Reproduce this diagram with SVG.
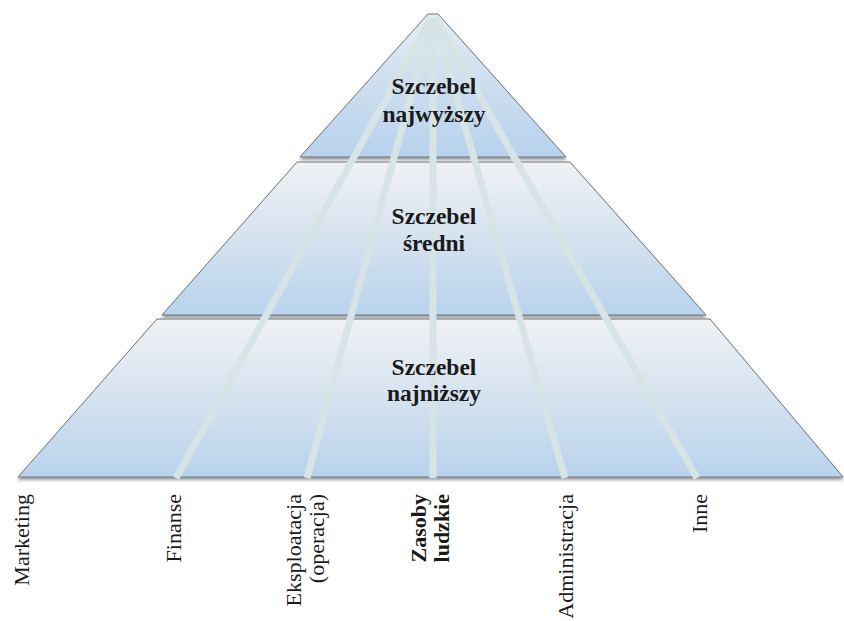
<svg xmlns="http://www.w3.org/2000/svg" width="844" height="621" viewBox="0 0 844 621">
  <style>
    .tier { stroke: #70757c; stroke-width: 1; filter: url(#shadow); }
    .level { font-family: "Liberation Serif", "Times New Roman", serif; font-size: 23.5px; font-weight: bold; fill: #1a1a1a; text-anchor: middle; }
    .func { font-family: "Liberation Serif", "Times New Roman", serif; font-size: 22px; fill: #1a1a1a; text-anchor: end; }
    .func.strong { font-weight: bold; }
    .ray { stroke: #d6e4e6; stroke-width: 7; stroke-linecap: butt; fill: none; }
  </style>
  <defs>
    <linearGradient id="tierFill" x1="0" y1="0" x2="0" y2="1">
      <stop offset="0" stop-color="#eff2f4"/>
      <stop offset="0.5" stop-color="#d5e2ef"/>
      <stop offset="1" stop-color="#b8d3ed"/>
    </linearGradient>
    <linearGradient id="apexFill" x1="0" y1="0" x2="0" y2="1">
      <stop offset="0" stop-color="#e6edf3"/>
      <stop offset="0.45" stop-color="#cfdff0"/>
      <stop offset="1" stop-color="#b7d2ec"/>
    </linearGradient>
    <filter id="shadow" x="-5%" y="-5%" width="110%" height="115%">
      <feDropShadow dx="0" dy="2.5" stdDeviation="1.6" flood-color="#4a4a4a" flood-opacity="0.55"/>
    </filter>
  </defs>

  <!-- pyramid levels -->
  <g id="tier-top">
    <polygon class="tier" fill="url(#apexFill)" points="428,14 438,14 566,157 300,157"/>
  </g>
  <g id="tier-middle">
    <polygon class="tier" fill="url(#tierFill)" points="297,162 570,162 706,315 162,315"/>
  </g>
  <g id="tier-bottom">
    <polygon class="tier" fill="url(#tierFill)" points="157,319 710,319 843,477 18,477"/>
  </g>

  <!-- functional rays from the apex down to each department -->
  <g id="connectors">
    <line class="ray" x1="431" y1="18" x2="176" y2="478"/>
    <line class="ray" x1="432" y1="18" x2="307" y2="478"/>
    <line class="ray" x1="433" y1="18" x2="433" y2="478"/>
    <line class="ray" x1="434" y1="18" x2="565" y2="478"/>
    <line class="ray" x1="435" y1="18" x2="697" y2="478"/>
  </g>

  <!-- level labels -->
  <g id="label-top">
    <text class="level" x="434" y="94">Szczebel</text>
    <text class="level" x="434" y="122">najwyższy</text>
  </g>
  <g id="label-middle">
    <text class="level" x="434" y="224">Szczebel</text>
    <text class="level" x="434" y="251">średni</text>
  </g>
  <g id="label-bottom">
    <text class="level" x="434" y="375">Szczebel</text>
    <text class="level" x="434" y="401">najniższy</text>
  </g>

  <!-- department labels, rotated -->
  <g id="dept-marketing">
    <text class="func" transform="translate(29,494) rotate(-90)">Marketing</text>
  </g>
  <g id="dept-finanse">
    <text class="func" transform="translate(181,494) rotate(-90)">Finanse</text>
  </g>
  <g id="dept-eksploatacja">
    <text class="func" transform="translate(301,494) rotate(-90)">Eksploatacja</text>
    <text class="func" transform="translate(324,494) rotate(-90)">(operacja)</text>
  </g>
  <g id="dept-zasoby">
    <text class="func strong" transform="translate(426,494) rotate(-90)">Zasoby</text>
    <text class="func strong" transform="translate(449,494) rotate(-90)">ludzkie</text>
  </g>
  <g id="dept-administracja">
    <text class="func" transform="translate(573,494) rotate(-90)">Administracja</text>
  </g>
  <g id="dept-inne">
    <text class="func" transform="translate(707,494) rotate(-90)">Inne</text>
  </g>
</svg>
